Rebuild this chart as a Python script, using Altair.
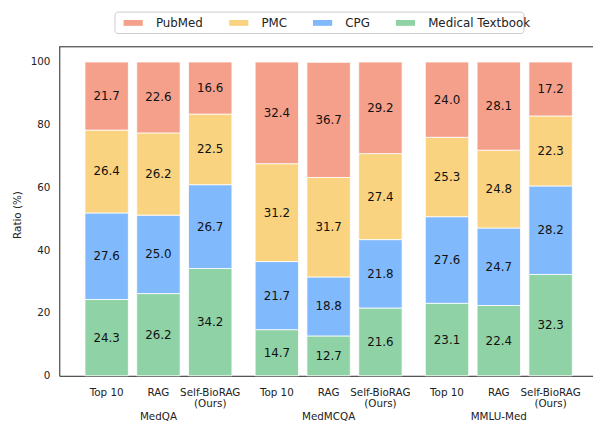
import altair as alt
import pandas as pd

datasets = ["MedQA", "MedMCQA", "MMLU-Med"]
methods = ["Top 10", "RAG", "Self-BioRAG (Ours)"]
method_labels = ["Top 10", "RAG", "Self-BioRAG\n(Ours)"]
sources = ["PubMed", "PMC", "CPG", "Medical Textbook"]
colors = ["#F5A08A", "#F9D37F", "#80B9FC", "#8FD2A5"]

# bar order: MedQA (Top 10, RAG, Self-BioRAG), MedMCQA (...), MMLU-Med (...)
medical_textbook = [24.3, 26.2, 34.2, 14.7, 12.7, 21.6, 23.1, 22.4, 32.3]
cpg = [27.6, 25.0, 26.7, 21.7, 18.8, 21.8, 27.6, 24.7, 28.2]
pmc = [26.4, 26.2, 22.5, 31.2, 31.7, 27.4, 25.3, 24.8, 22.3]
pubmed = [21.7, 22.6, 16.6, 32.4, 36.7, 29.2, 24.0, 28.1, 17.2]

stack_series = [("Medical Textbook", medical_textbook), ("CPG", cpg),
                ("PMC", pmc), ("PubMed", pubmed)]

rows = []
label_rows = []
for i in range(9):
    ds = datasets[i // 3]
    m = methods[i % 3]
    label_rows.append({"dataset": ds, "method": m, "label": method_labels[i % 3]})
    cum = 0.0
    for k, (src, vals) in enumerate(stack_series):
        v = vals[i]
        rows.append({"dataset": ds, "method": m, "source": src, "value": v,
                     "stack_idx": k, "mid": cum + v / 2})
        cum += v
df = pd.DataFrame(rows)
df_labels = pd.DataFrame(label_rows)

W, H = 541, 334
DARK = "#222222"

x_enc = alt.X("dataset:N", sort=datasets,
              scale=alt.Scale(paddingInner=0.087, paddingOuter=0.1116, align=0.565),
              axis=alt.Axis(title=None, labelAngle=0, ticks=False, tickSize=0,
                            labelPadding=44.4, labelBaseline="alphabetic",
                            labelFontSize=10.5, labelColor=DARK,
                            domainColor=DARK, domainWidth=1))
xo_enc = alt.XOffset("method:N", sort=methods,
                     scale=alt.Scale(paddingInner=0.162, paddingOuter=0.081))

# legend frame (decoration)
legend_box = alt.Chart(pd.DataFrame({"a": [0]})).mark_rect(
    fill="white", stroke="#cccccc", strokeWidth=1, cornerRadius=3
).encode(
    x=alt.value(56.5), x2=alt.value(471), y=alt.value(-34.7), y2=alt.value(-13)
)

bars = alt.Chart(df).mark_bar(stroke="white", strokeWidth=0.8).encode(
    x=x_enc,
    xOffset=xo_enc,
    y=alt.Y("value:Q", stack="zero",
            scale=alt.Scale(domain=[0, 105], nice=False),
            axis=alt.Axis(title="Ratio (%)", values=[0, 20, 40, 60, 80, 100], format="d",
                          ticks=False, tickSize=0, labelPadding=9.5, labelFontSize=10.5,
                          labelColor=DARK, titleFontSize=10.5, titleFontWeight="normal",
                          titleColor=DARK, titlePadding=8, titleY=170.5, grid=False,
                          domainColor=DARK, domainWidth=1)),
    color=alt.Color("source:N",
                    scale=alt.Scale(domain=sources, range=colors),
                    legend=alt.Legend(title=None, orient="none", legendX=58.5, legendY=-34.7,
                                      direction="horizontal",
                                      symbolType="M-1.62,-0.49H1.62V0.49H-1.62Z",
                                      symbolSize=144, symbolStrokeWidth=0,
                                      symbolOffset=5.4, labelOffset=17,
                                      labelFontSize=12, labelColor=DARK,
                                      columnPadding=24, padding=5,
                                      strokeColor="transparent", fillColor="transparent")),
    order=alt.Order("stack_idx:Q", sort="ascending"),
)

values_text = alt.Chart(df).mark_text(fontSize=12, color="#111111", baseline="middle").encode(
    x=x_enc,
    xOffset=xo_enc,
    y=alt.Y("mid:Q", stack=None),
    text=alt.Text("value:Q", format=".1f"),
)

method_text = alt.Chart(df_labels).mark_text(
    fontSize=10.5, color=DARK, baseline="alphabetic", align="center",
    lineBreak="\n", lineHeight=11.4
).encode(
    x=x_enc,
    xOffset=xo_enc,
    y=alt.value(H + 20.3),
    text="label:N",
)

top_rule = alt.Chart(pd.DataFrame({"a": [0]})).mark_rule(color=DARK, strokeWidth=1).encode(
    x=alt.value(0), x2=alt.value(W), y=alt.value(0.5)
)

chart = alt.layer(legend_box, bars, values_text, method_text, top_rule).properties(
    width=W, height=H,
    autosize=alt.AutoSizeParams(type="none"),
    padding={"left": 52, "top": 36, "right": 0, "bottom": 44},
).configure(font="DejaVu Sans").configure_view(stroke=None)

chart.save("out.html", embed_options={"renderer": "svg", "actions": False})
